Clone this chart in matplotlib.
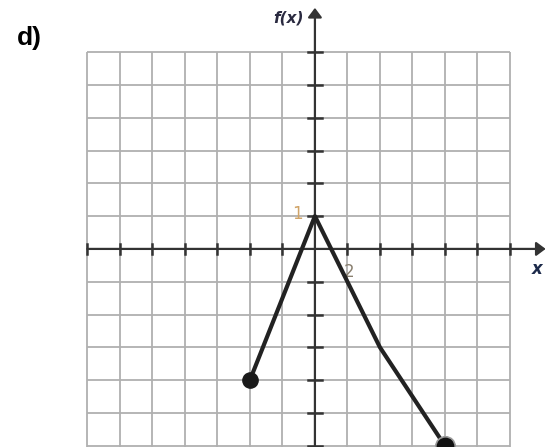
import matplotlib.pyplot as plt
import numpy as np

# piecewise linear f(x): endpoints and corner points
xs = [-4, 0, 4, 8]
ys = [-4, 1, -3, -6]

grid_x = np.arange(-14, 13, 2)
grid_y = np.arange(-6, 7, 1)

fig = plt.figure(figsize=(5.46, 4.47), dpi=100)
ax = fig.add_axes([0, 0, 1, 1])
ax.set_xlim(-19.38, 14.22)
ax.set_ylim(-6.04, 7.59)
ax.axis('off')

gc = '#b0b0b0'
ax.vlines(grid_x, -6.5, 6, color=gc, lw=1.3, zorder=1)
ax.hlines(grid_y, -14, 12, color=gc, lw=1.3, zorder=1)

# axes with arrows
ax.annotate('', xy=(14.2, 0), xytext=(-14, 0),
            arrowprops=dict(arrowstyle='-|>,head_width=0.3', color='#333333',
                            lw=1.6, mutation_scale=14, shrinkA=0, shrinkB=0),
            zorder=3)
ax.annotate('', xy=(0, 7.35), xytext=(0, -6.5),
            arrowprops=dict(arrowstyle='-|>,head_width=0.3', color='#333333',
                            lw=1.6, mutation_scale=14, shrinkA=0, shrinkB=0),
            zorder=3)

# tick marks on both axes
for gx in grid_x:
    if gx != 0:
        ax.plot([gx, gx], [-0.16, 0.16], color='#333333', lw=1.8, zorder=3)
for gy in grid_y:
    if gy != 0:
        ax.plot([-0.43, 0.43], [gy, gy], color='#333333', lw=1.8, zorder=3)

# the function
ax.plot(xs, ys, color='#222222', lw=3, solid_capstyle='round', zorder=4)
ax.plot(xs[0], ys[0], 'o', color='#1a1a1a', ms=11, zorder=5)
ax.plot(xs[-1], ys[-1], 'o', color='#111111', ms=14, mec='#999999', mew=1.2,
        zorder=5, clip_on=False)

# labels
ax.text(-1.1, 1.05, '1', ha='center', va='center', fontsize=12, color='#d0a468')
ax.text(2.1, -0.7, '2', ha='center', va='center', fontsize=12, color='#8a8070')
ax.text(13.7, -0.62, 'x', ha='center', va='center', fontsize=12,
        fontweight='bold', style='italic', color='#1c2a4a')
ax.text(-1.6, 7.05, 'f(x)', ha='center', va='center', fontsize=11,
        fontweight='bold', style='italic', color='#2a2a40')
fig.text(29 / 546, 1 - 38 / 447, 'd)', ha='center', va='center', fontsize=19,
         fontweight='bold', family='Liberation Sans')

plt.savefig('out.png', dpi=100)
